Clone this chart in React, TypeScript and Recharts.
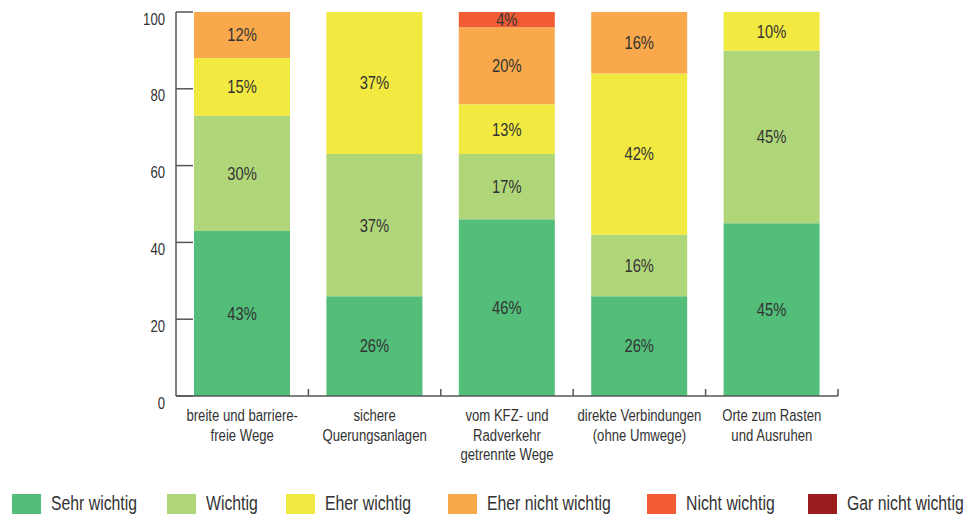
import React from 'react';
import { BarChart, Bar, XAxis, YAxis, LabelList } from 'recharts';

const categories = [
  'breite und barriere-\nfreie Wege',
  'sichere\nQuerungsanlagen',
  'vom KFZ- und\nRadverkehr\ngetrennte Wege',
  'direkte Verbindungen\n(ohne Umwege)',
  'Orte zum Rasten\nund Ausruhen',
];
const sehrWichtig = [43, 26, 46, 26, 45];
const wichtig = [30, 37, 17, 16, 45];
const eherWichtig = [15, 37, 13, 42, 10];
const eherNichtWichtig = [12, 0, 20, 16, 0];
const nichtWichtig = [0, 0, 4, 0, 0];
const garNichtWichtig = [0, 0, 0, 0, 0];
const yTicks = [0, 20, 40, 60, 80, 100];

const series = [
  { key: 'sehr', name: 'Sehr wichtig', values: sehrWichtig, color: '#52BE7A' },
  { key: 'wichtig', name: 'Wichtig', values: wichtig, color: '#B0D67A' },
  { key: 'eher', name: 'Eher wichtig', values: eherWichtig, color: '#F2E941' },
  { key: 'eherNicht', name: 'Eher nicht wichtig', values: eherNichtWichtig, color: '#F9A94B' },
  { key: 'nicht', name: 'Nicht wichtig', values: nichtWichtig, color: '#F25C35' },
  { key: 'gar', name: 'Gar nicht wichtig', values: garNichtWichtig, color: '#9A1C1F' },
];

const FONT = '"Liberation Sans", Arial, sans-serif';
const NARROW = 0.82; // fake Arial Narrow by squeezing the text
const TEXT = '#333333';
const AXIS = '#555555';

// legend item x positions (layout only)
const legendLeft = [12, 167, 286, 448, 647, 808];

const data = categories.map((cat, i) => {
  const row: Record<string, string | number> = { cat };
  series.forEach(s => {
    row[s.key] = s.values[i];
  });
  return row;
});

const YTick = (props: any) => {
  const { x, y, payload } = props;
  const axisX = x + 11;
  return (
    <g>
      <line x1={axisX} x2={axisX + 17} y1={y} y2={y} stroke={AXIS} strokeWidth={1.5} />
      <g transform={`translate(${x},${y + 7}) scale(${NARROW},1)`}>
        <text x={0} y={0} dy="0.355em" textAnchor="end" fill={TEXT} fontSize={16} fontFamily={FONT}>
          {payload.value}
        </text>
      </g>
    </g>
  );
};

const XTick = (props: any) => {
  const { x, y, payload } = props;
  const lines = String(payload.value).split('\n');
  const half = (838 - 176) / 5 / 2;
  return (
    <g>
      <line x1={x + half} x2={x + half} y1={396} y2={389} stroke={AXIS} strokeWidth={1.5} />
      <g transform={`translate(${x},${y + 6}) scale(${NARROW},1)`}>
        <text x={0} y={0} textAnchor="middle" fill={TEXT} fontSize={16} fontFamily={FONT}>
          {lines.map((l, i) => (
            <tspan key={i} x={0} dy={i === 0 ? '0.71em' : 19.5}>
              {l}
            </tspan>
          ))}
        </text>
      </g>
    </g>
  );
};

const SegmentLabel = (props: any) => {
  const { x, y, width, height, value } = props;
  if (!value) return null;
  const cx = Number(x) + Number(width) / 2;
  const cy = Number(y) + Number(height) / 2;
  return (
    <g transform={`translate(${cx},${cy}) scale(${NARROW},1)`}>
      <text x={0} y={0} dy="0.355em" textAnchor="middle" fill={TEXT} fontSize={18} fontFamily={FONT}>
        {`${value}%`}
      </text>
    </g>
  );
};

export default function App() {
  return (
    <div style={{ position: 'absolute', left: 0, top: 0, width: 974, height: 516, background: '#fff' }}>
      <BarChart
        width={974}
        height={470}
        data={data}
        margin={{ top: 12, right: 136, left: 0, bottom: 0 }}
        barSize={96}
      >
        <XAxis
          dataKey="cat"
          height={74}
          interval={0}
          tickLine={false}
          axisLine={{ stroke: AXIS, strokeWidth: 1.5 }}
          tick={<XTick />}
        />
        <YAxis
          width={176}
          domain={[0, 100]}
          ticks={yTicks}
          tickLine={false}
          tickSize={0}
          tickMargin={11}
          axisLine={{ stroke: AXIS, strokeWidth: 1.5 }}
          tick={<YTick />}
        />
        {series.map(s => (
          <Bar key={s.key} dataKey={s.key} name={s.name} stackId="a" fill={s.color} isAnimationActive={false}>
            <LabelList dataKey={s.key} content={<SegmentLabel />} />
          </Bar>
        ))}
      </BarChart>
      {series.map((s, i) => (
        <div
          key={s.key}
          style={{
            position: 'absolute',
            left: legendLeft[i],
            top: 493,
            height: 21,
            display: 'flex',
            alignItems: 'center',
            fontFamily: FONT,
            fontSize: 20,
            color: TEXT,
            whiteSpace: 'nowrap',
          }}
        >
          <span style={{ width: 29, height: 20, background: s.color, display: 'inline-block', marginRight: 10 }} />
          <span style={{ display: 'inline-block', transform: 'scaleX(0.79)', transformOrigin: 'left center' }}>
            {s.name}
          </span>
        </div>
      ))}
    </div>
  );
}
